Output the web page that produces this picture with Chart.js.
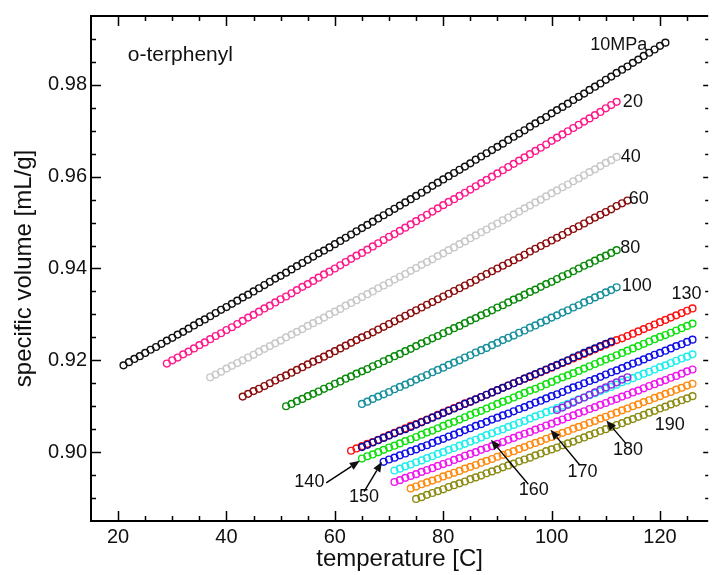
<!DOCTYPE html>
<html>
<head>
<meta charset="utf-8">
<script src="https://cdn.jsdelivr.net/npm/chart.js@4.4.1/dist/chart.umd.min.js"></script>
<style>
  html, body { margin: 0; padding: 0; background: #fff; }
</style>
</head>
<body>
<canvas id="chart" width="713" height="575"></canvas>
<script>
// temperature grid [C], 1 degree apart
const temperature = [20,21,22,23,24,25,26,27,28,29,30,31,32,33,34,35,36,37,38,39,40,41,42,43,44,45,46,47,48,49,
  50,51,52,53,54,55,56,57,58,59,60,61,62,63,64,65,66,67,68,69,70,71,72,73,74,75,76,77,78,79,
  80,81,82,83,84,85,86,87,88,89,90,91,92,93,94,95,96,97,98,99,100,101,102,103,104,105,106,107,108,109,
  110,111,112,113,114,115,116,117,118,119,120,121,122,123,124,125,126];

// specific volume [mL/g] per isobar, starting at firstT
const p10 = [0.9189,0.9196,0.9203,0.9209,0.9216,0.9223,0.9229,0.9236,0.9243,0.9249,
  0.9256,0.9262,0.9269,0.9276,0.9283,0.9289,0.9296,0.9303,0.9310,0.9316,
  0.9323,0.9330,0.9337,0.9343,0.9350,0.9357,0.9364,0.9371,0.9378,0.9384,
  0.9391,0.9398,0.9405,0.9412,0.9419,0.9426,0.9433,0.9439,0.9446,0.9453,
  0.9460,0.9467,0.9474,0.9481,0.9488,0.9495,0.9502,0.9509,0.9516,0.9523,
  0.9530,0.9537,0.9544,0.9551,0.9558,0.9565,0.9572,0.9580,0.9587,0.9594,
  0.9601,0.9608,0.9615,0.9622,0.9629,0.9637,0.9644,0.9651,0.9658,0.9665,
  0.9672,0.9680,0.9687,0.9694,0.9701,0.9709,0.9716,0.9723,0.9730,0.9738,
  0.9745,0.9752,0.9759,0.9767,0.9774,0.9781,0.9789,0.9796,0.9803,0.9811,
  0.9818,0.9826,0.9833,0.9840,0.9848,0.9855,0.9863,0.9870,0.9877,0.9885,0.9892];
const p20 = [0.9193,0.9200,0.9206,0.9213,0.9219,0.9226,0.9233,0.9239,0.9246,0.9253,
  0.9259,0.9266,0.9272,0.9279,0.9286,0.9293,0.9299,0.9306,0.9313,0.9319,
  0.9326,0.9333,0.9339,0.9346,0.9353,0.9360,0.9366,0.9373,0.9380,0.9387,
  0.9393,0.9400,0.9407,0.9414,0.9421,0.9428,0.9434,0.9441,0.9448,0.9455,
  0.9462,0.9469,0.9475,0.9482,0.9489,0.9496,0.9503,0.9510,0.9517,0.9524,
  0.9531,0.9538,0.9545,0.9551,0.9558,0.9565,0.9572,0.9579,0.9586,0.9593,
  0.9600,0.9607,0.9614,0.9621,0.9628,0.9635,0.9642,0.9649,0.9656,0.9663,
  0.9670,0.9678,0.9685,0.9692,0.9699,0.9706,0.9713,0.9720,0.9727,0.9734,
  0.9741,0.9749,0.9756,0.9763];
const p40 = [0.9163,0.9169,0.9175,0.9182,0.9188,0.9194,0.9200,0.9206,0.9212,0.9219,
  0.9225,0.9231,0.9237,0.9243,0.9250,0.9256,0.9262,0.9268,0.9275,0.9281,
  0.9287,0.9293,0.9300,0.9306,0.9312,0.9319,0.9325,0.9331,0.9338,0.9344,
  0.9350,0.9357,0.9363,0.9369,0.9376,0.9382,0.9388,0.9395,0.9401,0.9408,
  0.9414,0.9420,0.9427,0.9433,0.9440,0.9446,0.9453,0.9459,0.9466,0.9472,
  0.9479,0.9485,0.9492,0.9498,0.9505,0.9511,0.9518,0.9524,0.9531,0.9537,
  0.9544,0.9550,0.9557,0.9564,0.9570,0.9577,0.9583,0.9590,0.9596,0.9603,
  0.9610,0.9616,0.9623,0.9630,0.9636,0.9643];
const p60 = [0.9121,0.9127,0.9133,0.9138,0.9144,0.9150,0.9156,0.9162,0.9167,0.9173,
  0.9179,0.9185,0.9191,0.9197,0.9202,0.9208,0.9214,0.9220,0.9226,0.9232,
  0.9238,0.9244,0.9250,0.9255,0.9261,0.9267,0.9273,0.9279,0.9285,0.9291,
  0.9297,0.9303,0.9309,0.9315,0.9321,0.9327,0.9333,0.9339,0.9345,0.9351,
  0.9357,0.9363,0.9369,0.9375,0.9382,0.9388,0.9394,0.9400,0.9406,0.9412,
  0.9418,0.9424,0.9430,0.9437,0.9443,0.9449,0.9455,0.9461,0.9467,0.9473,
  0.9480,0.9486,0.9492,0.9498,0.9505,0.9511,0.9517,0.9523,0.9529,0.9536,
  0.9542,0.9548];
const p80 = [0.9100,0.9105,0.9111,0.9116,0.9122,0.9127,0.9132,0.9138,0.9143,0.9149,
  0.9154,0.9160,0.9165,0.9171,0.9176,0.9181,0.9187,0.9192,0.9198,0.9203,
  0.9209,0.9214,0.9220,0.9225,0.9231,0.9237,0.9242,0.9248,0.9253,0.9259,
  0.9264,0.9270,0.9275,0.9281,0.9287,0.9292,0.9298,0.9303,0.9309,0.9315,
  0.9320,0.9326,0.9332,0.9337,0.9343,0.9349,0.9354,0.9360,0.9366,0.9371,
  0.9377,0.9383,0.9388,0.9394,0.9400,0.9406,0.9411,0.9417,0.9423,0.9428,
  0.9434,0.9440];
const p100 = [0.9105,0.9110,0.9116,0.9121,0.9126,0.9131,0.9137,0.9142,0.9147,0.9152,
  0.9158,0.9163,0.9168,0.9174,0.9179,0.9184,0.9190,0.9195,0.9200,0.9206,
  0.9211,0.9217,0.9222,0.9227,0.9233,0.9238,0.9244,0.9249,0.9254,0.9260,
  0.9265,0.9271,0.9276,0.9282,0.9287,0.9293,0.9298,0.9304,0.9309,0.9315,
  0.9320,0.9326,0.9331,0.9337,0.9342,0.9348,0.9353,0.9359];
const p130 = [0.9003,0.9008,0.9013,0.9018,0.9022,0.9027,0.9032,0.9037,0.9042,0.9047,
  0.9052,0.9057,0.9061,0.9066,0.9071,0.9076,0.9081,0.9086,0.9091,0.9096,
  0.9101,0.9106,0.9110,0.9115,0.9120,0.9125,0.9130,0.9135,0.9140,0.9145,
  0.9150,0.9155,0.9160,0.9164,0.9169,0.9174,0.9179,0.9184,0.9189,0.9194,
  0.9199,0.9204,0.9209,0.9214,0.9219,0.9224,0.9229,0.9234,0.9239,0.9244,
  0.9248,0.9253,0.9258,0.9263,0.9268,0.9273,0.9278,0.9283,0.9288,0.9293,
  0.9298,0.9303,0.9308,0.9313];
const p130b = [0.9011,0.9016,0.9021,0.9026,0.9031,0.9036,0.9041,0.9046,0.9050,0.9055,
  0.9060,0.9065,0.9070,0.9075,0.9080,0.9085,0.9090,0.9095,0.9100,0.9105,
  0.9110,0.9115,0.9120,0.9125,0.9130,0.9135,0.9140,0.9145,0.9150,0.9155,
  0.9160,0.9165,0.9170,0.9175,0.9180,0.9185,0.9190,0.9195,0.9200,0.9206,
  0.9211,0.9216,0.9221,0.9226,0.9231,0.9236,0.9241];
const p140 = [0.8986,0.8991,0.8995,0.9000,0.9005,0.9010,0.9014,0.9019,0.9024,0.9028,
  0.9033,0.9038,0.9043,0.9047,0.9052,0.9057,0.9062,0.9066,0.9071,0.9076,
  0.9081,0.9086,0.9090,0.9095,0.9100,0.9105,0.9110,0.9114,0.9119,0.9124,
  0.9129,0.9134,0.9138,0.9143,0.9148,0.9153,0.9158,0.9163,0.9167,0.9172,
  0.9177,0.9182,0.9187,0.9192,0.9197,0.9202,0.9206,0.9211,0.9216,0.9221,
  0.9226,0.9231,0.9236,0.9241,0.9246,0.9251,0.9255,0.9260,0.9265,0.9270,
  0.9275,0.9280];
const p150 = [0.8979,0.8984,0.8988,0.8993,0.8997,0.9002,0.9006,0.9011,0.9015,0.9020,
  0.9025,0.9029,0.9034,0.9038,0.9043,0.9048,0.9052,0.9057,0.9061,0.9066,
  0.9071,0.9075,0.9080,0.9084,0.9089,0.9094,0.9098,0.9103,0.9108,0.9112,
  0.9117,0.9122,0.9126,0.9131,0.9136,0.9141,0.9145,0.9150,0.9155,0.9159,
  0.9164,0.9169,0.9174,0.9178,0.9183,0.9188,0.9193,0.9197,0.9202,0.9207,
  0.9212,0.9216,0.9221,0.9226,0.9231,0.9235,0.9240,0.9245];
const p160 = [0.8960,0.8964,0.8969,0.8973,0.8978,0.8982,0.8987,0.8991,0.8996,0.9000,
  0.9005,0.9009,0.9014,0.9018,0.9023,0.9027,0.9032,0.9037,0.9041,0.9046,
  0.9050,0.9055,0.9059,0.9064,0.9068,0.9073,0.9078,0.9082,0.9087,0.9091,
  0.9096,0.9101,0.9105,0.9110,0.9115,0.9119,0.9124,0.9128,0.9133,0.9138,
  0.9142,0.9147,0.9152,0.9156,0.9161,0.9166,0.9171,0.9175,0.9180,0.9185,
  0.9189,0.9194,0.9199,0.9204,0.9208,0.9213];
const p170 = [0.8935,0.8939,0.8944,0.8948,0.8952,0.8957,0.8961,0.8965,0.8970,0.8974,
  0.8978,0.8983,0.8987,0.8992,0.8996,0.9000,0.9005,0.9009,0.9013,0.9018,
  0.9022,0.9027,0.9031,0.9036,0.9040,0.9044,0.9049,0.9053,0.9058,0.9062,
  0.9067,0.9071,0.9076,0.9080,0.9085,0.9089,0.9094,0.9098,0.9103,0.9107,
  0.9112,0.9116,0.9121,0.9125,0.9130,0.9134,0.9139,0.9144,0.9148,0.9153,
  0.9157,0.9162,0.9166,0.9171,0.9176,0.9180];
const p180 = [0.8921,0.8925,0.8930,0.8934,0.8938,0.8942,0.8947,0.8951,0.8955,0.8959,
  0.8964,0.8968,0.8972,0.8977,0.8981,0.8985,0.8990,0.8994,0.8998,0.9002,
  0.9007,0.9011,0.9016,0.9020,0.9024,0.9029,0.9033,0.9037,0.9042,0.9046,
  0.9051,0.9055,0.9059,0.9064,0.9068,0.9073,0.9077,0.9082,0.9086,0.9091,
  0.9095,0.9100,0.9104,0.9109,0.9113,0.9118,0.9122,0.9127,0.9131,0.9136,
  0.9140,0.9145,0.9149];
const p190 = [0.8898,0.8902,0.8907,0.8911,0.8915,0.8919,0.8924,0.8928,0.8932,0.8936,
  0.8941,0.8945,0.8949,0.8954,0.8958,0.8962,0.8967,0.8971,0.8975,0.8980,
  0.8984,0.8988,0.8993,0.8997,0.9002,0.9006,0.9010,0.9015,0.9019,0.9023,
  0.9028,0.9032,0.9037,0.9041,0.9046,0.9050,0.9055,0.9059,0.9063,0.9068,
  0.9072,0.9077,0.9081,0.9086,0.9090,0.9095,0.9099,0.9104,0.9108,0.9113,
  0.9117,0.9122];
const p160b = [0.9092,0.9097,0.9103,0.9108,0.9114,0.9119,0.9125,0.9130,0.9136,0.9141,
  0.9147,0.9152,0.9158,0.9163];

const seriesNames = ['10MPa','20MPa','40MPa','60MPa','80MPa','100MPa','130MPa','130MPa (2)',
  '140MPa','150MPa','160MPa','170MPa','180MPa','190MPa','160MPa (2)'];
const seriesValues = [p10, p20, p40, p60, p80, p100, p130, p130b, p140, p150, p160, p170, p180, p190, p160b];
const firstT = [21, 29, 37, 43, 51, 65, 63, 65, 65, 69, 71, 71, 74, 75, 101];
const colors = ['#111111','#ff1a8c','#c8c8c8','#8b0c0c','#0a8a0a','#17909c','#ff1010','#0c0c9c',
  '#10e010','#1010e8','#20eeee','#ee18ee','#ff8a10','#8c8c14','#8a2be2'];

// axis tick labels
const xTicks = [20, 40, 60, 80, 100, 120];
const yTicks = [0.90, 0.92, 0.94, 0.96, 0.98];

// curve labels and arrows, in data units
const curveLabels = ['10MPa','20','40','60','80','100','130','140','150','160','170','180','190'];
const labelT = [112.4, 115.0, 114.6, 116.1, 114.5, 115.7, 124.9, 55.3, 65.4, 96.7, 105.7, 114.1, 121.8];
const labelV = [0.9886, 0.9763, 0.9643, 0.9552, 0.9444, 0.9362, 0.9344, 0.8935, 0.8902, 0.8917, 0.8956, 0.9004, 0.9058];
const arrowFromT = [58.4, 65.4, 95.7, 105.2, 113.7];
const arrowFromV = [0.8933, 0.8914, 0.8930, 0.8972, 0.9019];
const arrowToT = [64.6, 68.7, 88.8, 99.8, 110.1];
const arrowToV = [0.8981, 0.8979, 0.9027, 0.9049, 0.9069];

const FONT = '"Liberation Sans", Arial, Helvetica, sans-serif';

function points(start, values) {
  const i0 = temperature.indexOf(start);
  return values.map((v, i) => ({ x: temperature[i0 + i], y: v }));
}

const datasets = seriesValues.map((vals, k) => ({
  label: seriesNames[k],
  data: points(firstT[k], vals),
  borderColor: colors[k],
  backgroundColor: 'rgba(0,0,0,0)',
  pointBackgroundColor: 'rgba(0,0,0,0)',
  pointRadius: 3.4,
  pointBorderWidth: 1.4,
  pointHoverRadius: 3.4,
  // reruns sit on top of their neighbours, as in the original
  order: k === 14 ? 0 : (k === 7 ? 1 : 2)
}));

// box, inward ticks, curve labels and arrows
const decorations = {
  id: 'decorations',
  afterDraw(chart) {
    const { ctx, chartArea: a, scales: { x, y } } = chart;
    ctx.save();
    ctx.strokeStyle = '#000';
    ctx.fillStyle = '#111';

    ctx.lineWidth = 2;
    ctx.beginPath();
    ctx.moveTo(a.right, a.top); ctx.lineTo(a.left, a.top);
    ctx.lineTo(a.left, a.bottom); ctx.lineTo(a.right, a.bottom);
    ctx.stroke();

    ctx.lineWidth = 1.5;
    ctx.beginPath();
    for (let v = 20; v < x.max; v += 5) {
      const px = Math.round(x.getPixelForValue(v)) + 0.5;
      const len = v % 20 === 0 ? 10 : 5;
      ctx.moveTo(px, a.bottom); ctx.lineTo(px, a.bottom - len);
      ctx.moveTo(px, a.top); ctx.lineTo(px, a.top + len);
    }
    for (let k = 178; k <= 198; k++) {
      const py = Math.round(y.getPixelForValue(k * 0.005)) + 0.5;
      const major = k % 4 === 0;
      ctx.moveTo(a.left, py); ctx.lineTo(a.left + (major ? 10 : 5), py);
      ctx.moveTo(a.right, py); ctx.lineTo(a.right - (major ? 5 : 3), py);
    }
    ctx.stroke();

    ctx.font = '21px ' + FONT;
    ctx.textAlign = 'left';
    ctx.textBaseline = 'middle';
    ctx.fillText('o-terphenyl', x.getPixelForValue(21.8), y.getPixelForValue(0.9864));

    ctx.font = '18px ' + FONT;
    ctx.textAlign = 'center';
    curveLabels.forEach((t, i) => {
      ctx.fillText(t, x.getPixelForValue(labelT[i]), y.getPixelForValue(labelV[i]));
    });

    ctx.lineWidth = 1.4;
    arrowFromT.forEach((t, i) => {
      const x1 = x.getPixelForValue(t), y1 = y.getPixelForValue(arrowFromV[i]);
      const x2 = x.getPixelForValue(arrowToT[i]), y2 = y.getPixelForValue(arrowToV[i]);
      const ang = Math.atan2(y2 - y1, x2 - x1);
      const hl = 10, hw = 4;
      const bx = x2 - hl * Math.cos(ang), by = y2 - hl * Math.sin(ang);
      ctx.beginPath();
      ctx.moveTo(x1, y1); ctx.lineTo(bx, by);
      ctx.stroke();
      ctx.beginPath();
      ctx.moveTo(x2, y2);
      ctx.lineTo(bx + hw * Math.sin(ang), by - hw * Math.cos(ang));
      ctx.lineTo(bx - hw * Math.sin(ang), by + hw * Math.cos(ang));
      ctx.closePath();
      ctx.fill();
    });
    ctx.restore();
  }
};

new Chart(document.getElementById('chart'), {
  type: 'scatter',
  data: { datasets: datasets },
  options: {
    responsive: false,
    animation: false,
    events: [],
    layout: { padding: { top: 13, right: 0, left: 0, bottom: 0 } },
    plugins: { legend: { display: false }, tooltip: { enabled: false } },
    scales: {
      x: {
        type: 'linear',
        min: 15,
        max: 128.9,
        grid: { display: false, drawTicks: false },
        border: { display: false },
        ticks: {
          padding: 4,
          maxRotation: 0,
          color: '#111',
          font: { family: FONT, size: 20 },
          callback: v => String(v)
        },
        afterBuildTicks: s => { s.ticks = xTicks.map(v => ({ value: v })); },
        afterFit: s => { s.height = 54; },
        title: {
          display: true,
          text: 'temperature [C]',
          color: '#111',
          font: { family: FONT, size: 24 },
          padding: { top: 0, bottom: 1 }
        }
      },
      y: {
        type: 'linear',
        min: 0.885,
        max: 0.995,
        grid: { display: false, drawTicks: false },
        border: { display: false },
        ticks: {
          padding: 4,
          color: '#111',
          font: { family: FONT, size: 20 },
          callback: v => v.toFixed(2)
        },
        afterBuildTicks: s => { s.ticks = yTicks.map(v => ({ value: v })); },
        afterFit: s => { s.width = 91; },
        title: {
          display: true,
          text: 'specific volume [mL/g]',
          color: '#111',
          font: { family: FONT, size: 24 },
          padding: { top: 10, bottom: 0 }
        }
      }
    }
  },
  plugins: [decorations]
});
</script>
</body>
</html>
